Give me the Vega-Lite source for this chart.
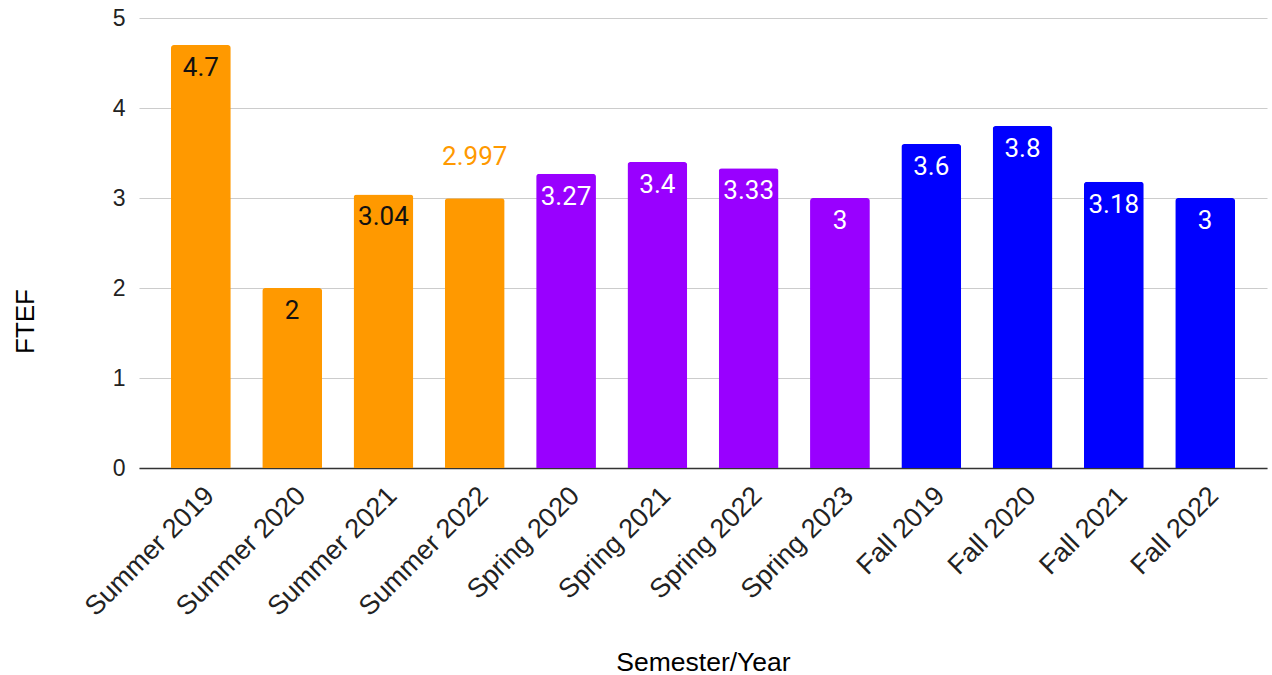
{
  "$schema": "https://vega.github.io/schema/vega-lite/v6.json",
  "width": 1128,
  "height": 450,
  "autosize": "none",
  "padding": {"left": 139, "top": 18, "right": 5, "bottom": 207},
  "background": "white",
  "config": {"view": {"stroke": null}, "font": "Liberation Sans"},
  "data": {
    "values": [
      {"Term": "Summer 2019", "Season": "Summer", "FTEF": 4.7, "Label": "4.7"},
      {"Term": "Summer 2020", "Season": "Summer", "FTEF": 2, "Label": "2"},
      {"Term": "Summer 2021", "Season": "Summer", "FTEF": 3.04, "Label": "3.04"},
      {"Term": "Summer 2022", "Season": "Summer", "FTEF": 2.997, "Label": "2.997"},
      {"Term": "Spring 2020", "Season": "Spring", "FTEF": 3.27, "Label": "3.27"},
      {"Term": "Spring 2021", "Season": "Spring", "FTEF": 3.4, "Label": "3.4"},
      {"Term": "Spring 2022", "Season": "Spring", "FTEF": 3.33, "Label": "3.33"},
      {"Term": "Spring 2023", "Season": "Spring", "FTEF": 3, "Label": "3"},
      {"Term": "Fall 2019", "Season": "Fall", "FTEF": 3.6, "Label": "3.6"},
      {"Term": "Fall 2020", "Season": "Fall", "FTEF": 3.8, "Label": "3.8"},
      {"Term": "Fall 2021", "Season": "Fall", "FTEF": 3.18, "Label": "3.18"},
      {"Term": "Fall 2022", "Season": "Fall", "FTEF": 3, "Label": "3"}
    ]
  },
  "encoding": {
    "x": {
      "field": "Term", "type": "nominal", "sort": null,
      "scale": {"paddingInner": 0.345, "paddingOuter": 0.35},
      "axis": {
        "title": "Semester/Year", "titleFontSize": 26.5, "titleFontWeight": "normal", "titleColor": "#000",
        "titleFont": "Liberation Sans", "titleY": 194, "titleBaseline": "middle",
        "labelAngle": -45, "labelFontSize": 27, "labelColor": "#222", "labelFont": "Liberation Sans",
        "labelPadding": 14, "ticks": false, "domainColor": "#333", "domainWidth": 1.5, "grid": false
      }
    },
    "y": {
      "field": "FTEF", "type": "quantitative",
      "scale": {"domain": [0, 5], "nice": false},
      "axis": {
        "title": "FTEF", "titleFontSize": 26, "titleFontWeight": "normal", "titleColor": "#000",
        "titleFont": "Liberation Sans", "titleX": -114, "titleY": 303, "titleAngle": -90,
        "titleAlign": "center", "titleBaseline": "middle",
        "values": [0, 1, 2, 3, 4, 5], "format": "d",
        "labelFontSize": 23, "labelColor": "#222", "labelFont": "Liberation Sans", "labelPadding": 14,
        "ticks": false, "domain": false, "gridColor": "#cccccc", "gridWidth": 1.2
      }
    }
  },
  "layer": [
    {
      "mark": {"type": "bar", "cornerRadiusTopLeft": 3, "cornerRadiusTopRight": 3},
      "encoding": {
        "color": {
          "field": "Season", "type": "nominal", "legend": null,
          "scale": {"domain": ["Summer", "Spring", "Fall"], "range": ["#FF9900", "#9900FF", "#0000FF"]}
        }
      }
    },
    {
      "transform": [{"filter": "datum.Term !== 'Summer 2022'"}],
      "mark": {"type": "text", "font": "Roboto", "fontSize": 26, "baseline": "middle", "dy": 23},
      "encoding": {
        "text": {"field": "Label"},
        "color": {"condition": {"test": "datum.Season === 'Summer'", "value": "#111111"}, "value": "#ffffff"}
      }
    },
    {
      "transform": [{"filter": "datum.Term === 'Summer 2022'"}],
      "mark": {"type": "text", "font": "Roboto", "fontSize": 26, "baseline": "middle", "dy": -41, "color": "#FF9900"},
      "encoding": {"text": {"field": "Label"}}
    }
  ]
}
